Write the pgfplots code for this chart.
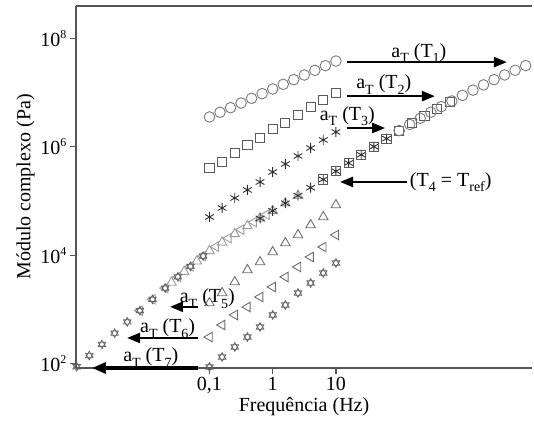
\documentclass[border=0pt]{standalone}
\usepackage{fontspec}
\setmainfont{Liberation Serif}
\usepackage{pgfplots}
\pgfplotsset{compat=1.18}
\usetikzlibrary{arrows.meta}
\pgfdeclareplotmark{hexagram}{%
  \pgfpathmoveto{\pgfpointpolar{90}{\pgfplotmarksize}}%
  \pgfpathlineto{\pgfpointpolar{210}{\pgfplotmarksize}}%
  \pgfpathlineto{\pgfpointpolar{330}{\pgfplotmarksize}}%
  \pgfpathclose
  \pgfpathmoveto{\pgfpointpolar{270}{\pgfplotmarksize}}%
  \pgfpathlineto{\pgfpointpolar{30}{\pgfplotmarksize}}%
  \pgfpathlineto{\pgfpointpolar{150}{\pgfplotmarksize}}%
  \pgfpathclose
  \pgfusepathqstroke}
\newcommand{\mysub}[1]{\raisebox{-5.5pt}{\fontsize{14}{14}\selectfont #1}}
\newcommand{\mysup}[1]{\raisebox{8pt}{\fontsize{12}{12}\selectfont #1}}
\definecolor{cCirc}{HTML}{7A7A7A}
\definecolor{cSq}{HTML}{5A5A5A}
\definecolor{cAst}{HTML}{2E2E2E}
\definecolor{cTri}{HTML}{6E6E6E}
\definecolor{cTriL}{HTML}{9C9C9C}
\definecolor{cHex}{HTML}{606060}
\definecolor{cAxis}{HTML}{555555}
\begin{document}
\begin{tikzpicture}[font=\fontsize{20}{24}\selectfont]
\begin{axis}[
  scale only axis, width=456pt, height=362pt,
  xmode=log, ymode=log,
  xmin=7.76e-4, xmax=1.26e4,
  ymin=82.6, ymax=3.98e8,
  axis x line=box, axis y line=left,
  axis line style={-, line width=1.3pt, draw=cAxis},
  tick pos=left, tick align=outside,
  major tick length=6pt, minor tick length=0pt,
  tick style={line width=1.2pt, draw=cAxis},
  xtick={0.1,1,10}, xticklabels={0{,}1,1,10},
  ytick={1e2,1e4,1e6,1e8},
  yticklabels={10\mysup{2},10\mysup{4},10\mysup{6},10\mysup{8}},
  xlabel={Frequência (Hz)}, ylabel={Módulo complexo (Pa)},
  xlabel style={yshift=3pt},
  ylabel style={yshift=-1pt},
  clip=false,
  every axis plot/.append style={only marks, line width=0.9pt},
]
% bounding box matching reference proportions
\path (rel axis cs:-0.1667,-0.1519) rectangle (rel axis cs:1.0044,1.0166);

% ---------- original isotherms ----------
% T1 circles
\addplot[mark=o, mark size=5.3pt, draw=cCirc] coordinates {
(0.1,3.56e6)(0.1468,4.34e6)(0.2154,5.28e6)(0.3162,6.44e6)(0.4642,7.85e6)(0.6813,9.59e6)(1,1.169e7)(1.468,1.426e7)(2.154,1.738e7)(3.162,2.118e7)(4.642,2.582e7)(6.813,3.148e7)(10,3.837e7)};
% T2 squares
\addplot[mark=square, mark size=4.6pt, draw=cSq] coordinates {
(0.1,4.06e5)(0.1585,5.25e5)(0.2512,7.69e5)(0.3981,1.08e6)(0.631,1.46e6)(1,2.13e6)(1.585,2.75e6)(2.512,3.87e6)(3.981,5.43e6)(6.31,7.32e6)(10,9.86e6)};
% T3 asterisks
\addplot[mark=asterisk, mark size=5pt, draw=cAst] coordinates {
(0.1,5.07e4)(0.1585,7.43e4)(0.2512,1.136e5)(0.3981,1.60e5)(0.631,2.24e5)(1,3.43e5)(1.585,4.82e5)(2.512,6.78e5)(3.981,9.52e5)(6.31,1.34e6)(10,1.88e6)};
% T5 triangles
\addplot[mark=triangle, mark size=5.5pt, draw=cTri] coordinates {
(0.1,1309)(0.1585,2004)(0.2512,3199)(0.3981,5325)(0.631,7477)(1,1.145e4)(1.585,1.679e4)(2.512,2.357e4)(3.981,3.604e4)(6.31,5.07e4)(10,8.44e4)};
% T6 left triangles
\addplot[mark=triangle, mark size=5.5pt, mark options={rotate=90}, draw=cTri] coordinates {
(0.1,308)(0.1585,514)(0.2512,787)(0.3981,1105)(0.631,1690)(1,2585)(1.585,3954)(2.512,6050)(3.981,9250)(6.31,1.416e4)(10,2.357e4)};
% T7 hexagrams
\addplot[mark=hexagram, mark size=4.4pt, draw=cHex, line width=0.7pt] coordinates {
(0.1,86.3)(0.1585,132)(0.2512,202)(0.3981,308)(0.631,472)(1,787)(1.585,1203)(2.512,2004)(3.981,3064)(6.31,4688)(10,7160)};

% ---------- master curve (shifted data) ----------
\addplot[mark=triangle, mark size=5.5pt, mark options={rotate=90}, draw=cTriL] coordinates {
(7.943e-3,946)(1.259e-2,1528)(1.995e-2,2466)(3.162e-2,3981)(5.012e-2,6194)(7.943e-2,9638)(0.1259,1.439e4)(0.1995,2.061e4)(0.3162,2.951e4)(0.5012,4.074e4)(0.7943,5.623e4)};
\addplot[mark=triangle, mark size=5.5pt, draw=cTriL] coordinates {
(0.02512,3133)(0.03981,4966)(0.0631,7727)(0.1,1.202e4)(0.1585,1.722e4)(0.2512,2.466e4)(0.3981,3.467e4)(0.631,4.786e4)(1,6.607e4)(1.585,9.12e4)(2.512,1.259e5)};
\addplot[mark=hexagram, mark size=4.4pt, draw=cHex, line width=0.7pt] coordinates {
(7.943e-4,87.1)(1.259e-3,140.2)(1.995e-3,225.4)(3.162e-3,363)(5.012e-3,586)(7.943e-3,946)(1.259e-2,1528)(1.995e-2,2466)(3.162e-2,3981)(5.012e-2,6194)(7.943e-2,9638)};
\addplot[mark=asterisk, mark size=5pt, draw=cAst] coordinates {
(0.631,4.786e4)(1,6.607e4)(1.585,9.12e4)(2.512,1.259e5)(3.981,1.762e5)(6.31,2.500e5)(10,3.548e5)(15.85,5.035e5)(25.12,7.145e5)(39.81,1.009e6)(63.1,1.419e6)};
\addplot[mark=square, mark size=4.6pt, draw=cSq] coordinates {
(6.31,2.500e5)(10,3.548e5)(15.85,5.035e5)(25.12,7.145e5)(39.81,1.009e6)(63.1,1.419e6)(100,1.995e6)(158.5,2.729e6)(251.2,3.733e6)(398.1,5.035e6)(631,6.699e6)};
\addplot[mark=o, mark size=5.3pt, draw=cCirc] coordinates {
(100,1.995e6)(146.8,2.588e6)(215.4,3.365e6)(316.2,4.365e6)(464.2,5.534e6)(681.3,7.031e6)(1000,8.913e6)(1468,1.114e7)(2154,1.391e7)(3162,1.738e7)(4642,2.123e7)(6813,2.588e7)(10000,3.162e7)};

% ---------- shift-factor arrows ----------
\draw[line width=2.4pt, -{Triangle[length=13pt,width=10pt]}] (rel axis cs:0.594,0.845) -- (rel axis cs:0.945,0.845);
\node[anchor=base] at (rel axis cs:0.752,0.859) {a\mysub{T} (T\mysub{1})};
\draw[line width=2.4pt, -{Triangle[length=13pt,width=10pt]}] (rel axis cs:0.594,0.751) -- (rel axis cs:0.787,0.751);
\node[anchor=base] at (rel axis cs:0.675,0.771) {a\mysub{T} (T\mysub{2})};
\draw[line width=2.4pt, -{Triangle[length=13pt,width=10pt]}] (rel axis cs:0.594,0.663) -- (rel axis cs:0.678,0.663);
\node[anchor=base] at (rel axis cs:0.595,0.685) {a\mysub{T} (T\mysub{3})};
\draw[line width=2.4pt, -{Triangle[length=13pt,width=10pt]}] (rel axis cs:0.726,0.514) -- (rel axis cs:0.579,0.514);
\node[anchor=base west, inner sep=0pt] at (rel axis cs:0.732,0.502) {(T\mysub{4} = T\mysub{ref})};
\draw[line width=2.4pt, -{Triangle[length=13pt,width=10pt]}] (rel axis cs:0.268,0.169) -- (rel axis cs:0.206,0.169);
\node[anchor=base] at (rel axis cs:0.288,0.180) {a\mysub{T} (T\mysub{5})};
\draw[line width=2.4pt, -{Triangle[length=13pt,width=10pt]}] (rel axis cs:0.268,0.083) -- (rel axis cs:0.112,0.083);
\node[anchor=base] at (rel axis cs:0.201,0.097) {a\mysub{T} (T\mysub{6})};
\draw[line width=3.2pt, -{Triangle[length=14pt,width=11pt]}] (rel axis cs:0.268,0.0) -- (rel axis cs:0.035,0.0);
\node[anchor=base] at (rel axis cs:0.164,0.017) {a\mysub{T} (T\mysub{7})};
\end{axis}
\end{tikzpicture}
\end{document}
